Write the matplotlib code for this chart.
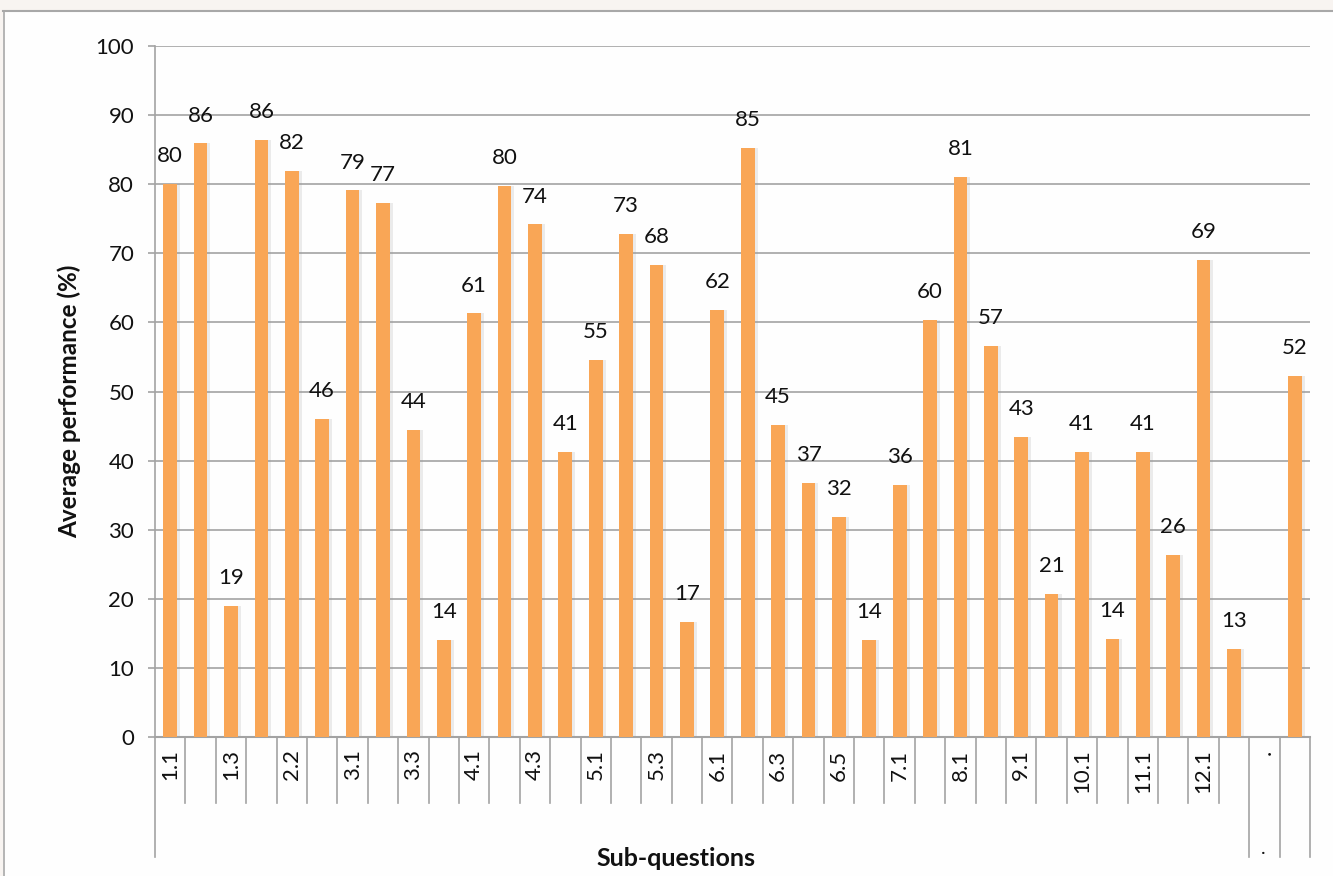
import numpy as np
import matplotlib
matplotlib.use("Agg")
import matplotlib.pyplot as plt
from matplotlib.patches import Rectangle
from matplotlib.lines import Line2D

plt.rcParams['font.family'] = ['Lato', 'DejaVu Sans']

# ---- data ----
categories = ["1.1", "", "1.3", "", "2.2", "", "3.1", "", "3.3", "", "4.1", "",
              "4.3", "", "5.1", "", "5.3", "", "6.1", "", "6.3", "", "6.5", "",
              "7.1", "", "8.1", "", "9.1", "", "10.1", "", "11.1", "", "12.1", "",
              ".", ""]
values = [80.0, 85.9, 19.0, 86.4, 81.9, 46.0, 79.1, 77.3, 44.4, 14.0,
          61.3, 79.7, 74.2, 41.3, 54.6, 72.8, 68.3, 16.7, 61.8, 85.2,
          45.2, 36.8, 31.8, 14.0, 36.5, 60.4, 81.1, 56.6, 43.4, 20.7,
          41.3, 14.2, 41.3, 26.4, 69.0, 12.8, np.nan, 52.3]
group_labels = ["", ".", ""]          # second-level x-axis groups
group_spans = [(0, 35), (36, 36), (37, 37)]
y_ticks = [0, 10, 20, 30, 40, 50, 60, 70, 80, 90, 100]

W, H = 1333, 876
fig = plt.figure(figsize=(W / 100, H / 100), dpi=100)
fig.patch.set_facecolor('#fefefe')

# document background band + chart frame
fig.add_artist(Rectangle((0, 1 - 10 / H), 1, 10 / H, transform=fig.transFigure,
                         facecolor='#f8f4f1', edgecolor='none', zorder=0))
fig.add_artist(Rectangle((0, 0), 3 / W, 1, transform=fig.transFigure,
                         facecolor='#f8f4f1', edgecolor='none', zorder=0))
fig.add_artist(Line2D([3 / W, 1], [1 - 11 / H, 1 - 11 / H], transform=fig.transFigure,
                      color='#a8a8a8', lw=1.5))
fig.add_artist(Line2D([3.5 / W, 3.5 / W], [0, 1 - 11 / H], transform=fig.transFigure,
                      color='#a8a8a8', lw=1.2))

left, right, bottom, top = 155 / W, 1310 / W, 1 - 737 / H, 1 - 46 / H
ax = fig.add_axes([left, bottom, right - left, top - bottom])
ax.set_facecolor('none')

x = np.arange(len(categories))
vals = np.array(values)
bar_w = 0.45
grid_c = '#a3a3a3'
txt_c = '#111111'

# shadows
ax.bar(x + 0.1, np.nan_to_num(vals), width=bar_w, color='#9a9a9a', alpha=0.18,
       zorder=2, edgecolor='none')
ax.bar(x, np.nan_to_num(vals), width=bar_w, color='#f9a656', zorder=3, edgecolor='none')

for xi, v in zip(x, vals):
    if np.isnan(v):
        continue
    ax.annotate(f"{v:.0f}", (xi, v), xytext=(0, 20), textcoords='offset points',
                ha='center', va='center', fontsize=16, color=txt_c, zorder=5)

ax.set_xlim(-0.5, len(categories) - 0.5)
ax.set_ylim(0, 100)
ax.set_yticks(y_ticks)
ax.yaxis.grid(True, color=grid_c, lw=1.2, zorder=0)
ax.set_axisbelow(True)
for s in ['top', 'right']:
    ax.spines[s].set_visible(False)
ax.spines['left'].set_color(grid_c)
ax.spines['left'].set_linewidth(1.2)
ax.spines['bottom'].set_color(grid_c)
ax.spines['bottom'].set_linewidth(1.5)
ax.tick_params(axis='y', length=5, color=grid_c, width=1.2, labelsize=16,
               labelcolor=txt_c, pad=10)

ax.set_xticks(x)
ax.set_xticklabels(categories, rotation=90, fontsize=16, color=txt_c)
ax.tick_params(axis='x', length=0, pad=9)
for lbl in ax.get_xticklabels():
    lbl.set_va('top')

# multi-level axis separator lines
ax_h = 737 - 46
short_y = -(803 - 737) / ax_h
long_y = -(857 - 737) / ax_h
long_bounds = {-0.5}
for a, b in group_spans:
    long_bounds.add(a - 0.5)
    long_bounds.add(b + 0.5)
trans = ax.get_xaxis_transform()
for k in range(len(categories) + 1):
    bx = k - 0.5
    y2 = long_y if any(abs(bx - lb) < 1e-6 for lb in long_bounds) else short_y
    ax.plot([bx, bx], [0, y2], transform=trans, color=grid_c, lw=1.2, clip_on=False)

# second-level group labels
for (a, b), g in zip(group_spans, group_labels):
    if g:
        ax.text((a + b) / 2 - 0.05, -(848 - 737) / ax_h, g, transform=trans,
                ha='center', va='center', fontsize=14, color=txt_c)

ax.set_ylabel("Average performance (%)", fontsize=17.5, fontweight='bold',
              color=txt_c)
ax.yaxis.set_label_coords(-(155 - 81) / (1310 - 155), (737 - 401) / ax_h)
fig.text(676 / W, 1 - 858 / H, "Sub-questions", ha='center', va='center',
         fontsize=18, fontweight='bold', color=txt_c)

fig.savefig("out.png", dpi=100, facecolor=fig.get_facecolor())
